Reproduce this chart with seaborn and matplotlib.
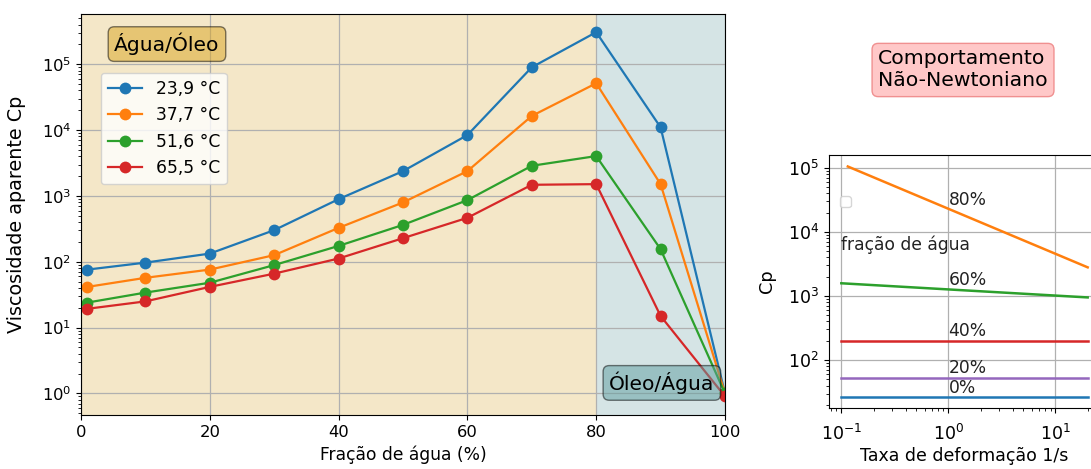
import matplotlib
matplotlib.use("Agg")
import matplotlib.pyplot as plt
from matplotlib.ticker import LogLocator, NullFormatter
import seaborn as sns
import numpy as np
import pandas as pd

# ---- data: left panel ----
fracao = [1, 10, 20, 30, 40, 50, 60, 70, 80, 90, 100]
visc_239 = [76, 97, 133, 302, 893, 2380, 8400, 90000, 307000, 11000, 1.0]
visc_377 = [41.5, 57, 76, 126, 327, 796, 2380, 16400, 51400, 1510, 1.0]
visc_516 = [24, 34, 48, 89, 174, 363, 863, 2870, 4030, 155, 1.0]
visc_655 = [19.3, 25, 41.5, 66, 112, 228, 465, 1476, 1510, 15, 0.9]
series_labels = ["23,9 °C", "37,7 °C", "51,6 °C", "65,5 °C"]

# ---- data: right panel ----
taxa_80 = [0.115, 20]
cp_80 = [105000, 2800]
taxa_60 = [0.1, 20]
cp_60 = [1580, 950]
taxa_const = [0.1, 20]
cp_40 = [196, 196]
cp_20 = [52, 52]
cp_0 = [27, 27]
frac_labels = ["80%", "60%", "40%", "20%", "0%"]
frac_label_y = [3.1e4, 1.8e3, 280, 76, 37]

W, H = 1091, 469
fig = plt.figure(figsize=(W / 100, H / 100), dpi=100)

# ---------- left axes ----------
ax = fig.add_axes([81 / W, 1 - 415 / H, 644 / W, 401 / H])
ax.axvspan(0, 80, color="#f4e7c8", lw=0)
ax.axvspan(80, 100, color="#d5e4e5", lw=0)

colors = ["#1f77b4", "#ff7f0e", "#2ca02c", "#d62728"]
for vals, lab, c in zip([visc_239, visc_377, visc_516, visc_655], series_labels, colors):
    sns.lineplot(x=fracao, y=vals, ax=ax, color=c, marker="o", markersize=8.5,
                 markeredgewidth=0, linewidth=1.6, label=lab)

ax.set_yscale("log")
ax.set_xlim(0, 100)
ax.set_ylim(0.47, 5.8e5)
ax.yaxis.set_major_locator(LogLocator(base=10, numticks=20))
ax.yaxis.set_minor_locator(LogLocator(base=10, subs=np.arange(2, 10), numticks=100))
ax.yaxis.set_minor_formatter(NullFormatter())
ax.grid(True, which="major", color="#b0b0b0", lw=0.9)
ax.set_xlabel("Fração de água (%)", fontsize=12.3)
ax.set_ylabel("Viscosidade aparente Cp", fontsize=13.8)
ax.yaxis.set_label_coords(-0.086, 0.5)
ax.tick_params(labelsize=11.8)
ax.set_xticks([0, 20, 40, 60, 80, 100])
leg = ax.legend(loc="upper left", bbox_to_anchor=(0.031, 0.853), borderaxespad=0,
                fontsize=12.3, handlelength=2.0, framealpha=0.8)

ax.text(0.1335, 0.925, "Água/Óleo", transform=ax.transAxes, fontsize=14.6,
        ha="center", va="center",
        bbox=dict(boxstyle="round", facecolor="goldenrod", alpha=0.5))
ax.text(0.902, 0.080, "Óleo/Água", transform=ax.transAxes, fontsize=14.6,
        ha="center", va="center",
        bbox=dict(boxstyle="round", facecolor="cadetblue", alpha=0.5))

# ---------- right axes ----------
ax2 = fig.add_axes([829 / W, 1 - 408 / H, 271 / W, 253 / H])
sns.lineplot(x=taxa_const, y=cp_0, ax=ax2, color="#1f77b4", linewidth=1.8)
sns.lineplot(x=taxa_80, y=cp_80, ax=ax2, color="#ff7f0e", linewidth=1.8)
sns.lineplot(x=taxa_60, y=cp_60, ax=ax2, color="#2ca02c", linewidth=1.8)
sns.lineplot(x=taxa_const, y=cp_40, ax=ax2, color="#d62728", linewidth=1.8)
sns.lineplot(x=taxa_const, y=cp_20, ax=ax2, color="#9467bd", linewidth=1.8)
ax2.set_xscale("log")
ax2.set_yscale("log")
for axis in (ax2.xaxis, ax2.yaxis):
    axis.set_minor_locator(LogLocator(base=10, subs=np.arange(2, 10), numticks=100))
    axis.set_minor_formatter(NullFormatter())
ax2.grid(True, which="major", color="#b0b0b0", lw=0.9)
ax2.tick_params(labelsize=12.5)
ax2.tick_params(axis="x", which="major", pad=8)
ax2.set_xlabel("Taxa de deformação 1/s", fontsize=12.5, labelpad=2)
ax2.set_ylabel("Cp", fontsize=12.8)
ax2.yaxis.set_label_coords(-0.195, 0.5)
for lab, yv in zip(frac_labels, frac_label_y):
    ax2.text(1.0, yv, lab, fontsize=12.3, ha="left", va="center", color="#222222")
ax2.text(0.1, 6300, "fração de água", fontsize=12.3, ha="left", va="center", color="#222222")
ax2.legend(handles=[], loc="center", bbox_to_anchor=(0.06, 0.815))

fig.text(0.8827, 1 - 70 / H, "Comportamento\nNão-Newtoniano", fontsize=14.7,
         ha="center", va="center", multialignment="left",
         bbox=dict(boxstyle="round", facecolor="#ffc8c8", edgecolor="#f09090"))

fig.savefig("out.png", dpi=100)
